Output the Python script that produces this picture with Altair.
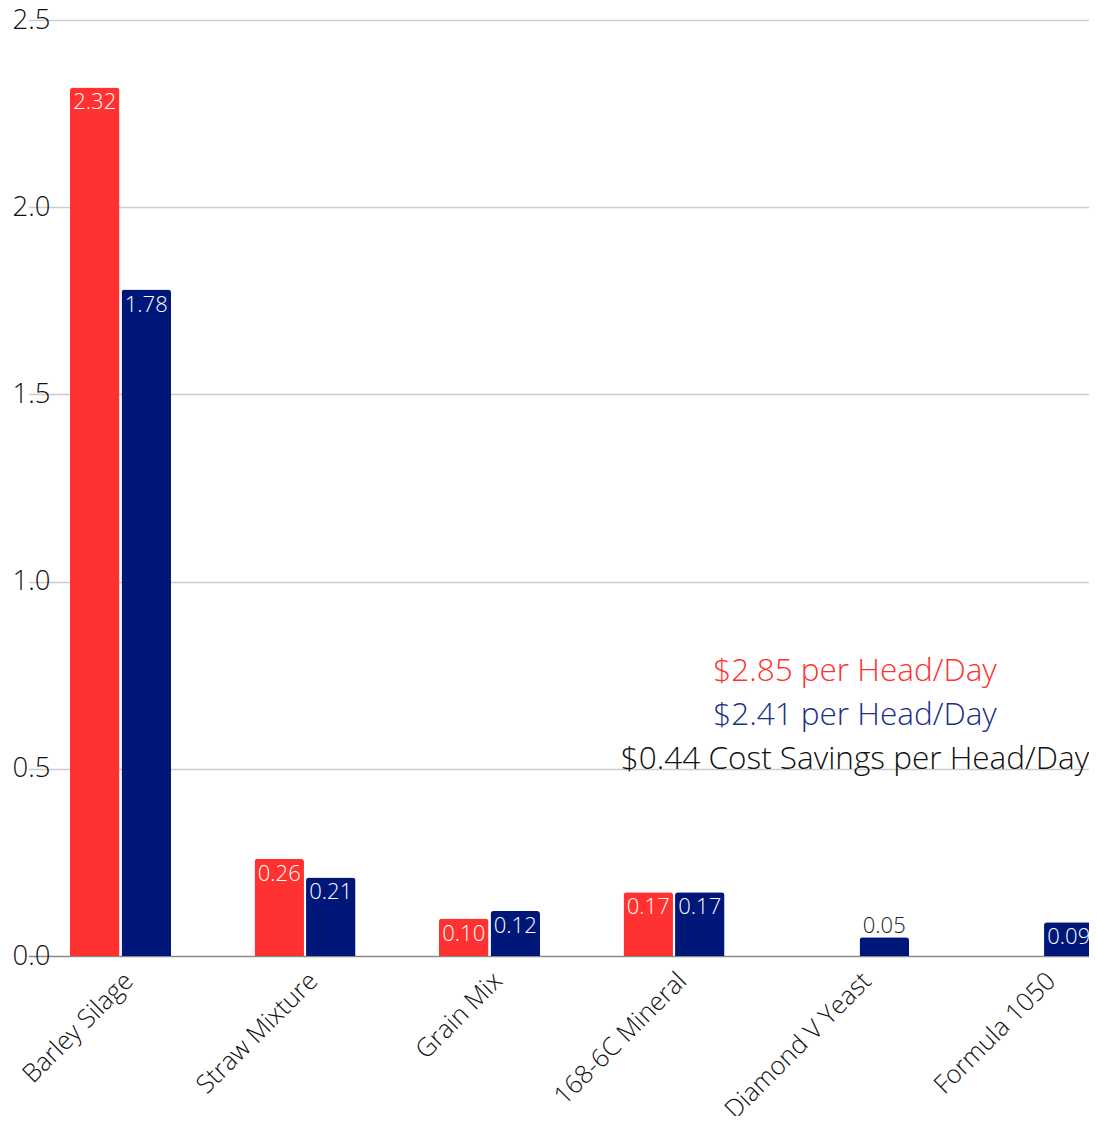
import altair as alt
import pandas as pd

categories = ["Barley Silage", "Straw Mixture", "Grain Mix", "168-6C Mineral", "Diamond V Yeast", "Formula 1050"]
series_names = ["Conventional", "Program"]
red_values = [2.32, 0.26, 0.10, 0.17, None, None]
blue_values = [1.78, 0.21, 0.12, 0.17, 0.05, 0.09]
colors = ["#ff3131", "#00177a"]
notes = ["$2.85 per Head/Day", "$2.41 per Head/Day", "$0.44 Cost Savings per Head/Day"]
note_colors = ["#ff3131", "#1a2f8c", "#111111"]
y_ticks = [0.0, 0.5, 1.0, 1.5, 2.0, 2.5]

rows = []
for c, r, b in zip(categories, red_values, blue_values):
    if r is not None:
        rows.append({"category": c, "series": series_names[0], "value": r})
    if b is not None:
        rows.append({"category": c, "series": series_names[1], "value": b})
df = pd.DataFrame(rows)

FONT = "Open Sans"
W, H = 1023, 936

x_enc = alt.X("category:N", sort=categories, title=None,
              scale=alt.Scale(range=[-41.75, 1065.25], paddingInner=0, paddingOuter=0),
              axis=alt.Axis(labelAngle=-45, labelFontSize=25.5, labelFont=FONT, labelFontWeight=300,
                            labelColor="#111111", labelPadding=12, ticks=False, domain=False,
                            labelAlign="right", labelBaseline="top", labelLimit=0, labelOverlap=False))
xo_enc = alt.XOffset("series:N", sort=series_names,
                     scale=alt.Scale(domain=series_names, range=[41.75, 142.75], paddingInner=0.04, paddingOuter=0))
y_enc = alt.Y("value:Q", title=None,
              scale=alt.Scale(domain=[0, 2.5], nice=False),
              axis=alt.Axis(values=y_ticks, format=".1f", labelFontSize=27.5, labelFont=FONT,
                            labelFontWeight=300, labelColor="#111111", labelPadding=20,
                            ticks=False, domain=False, gridWidth=1.5,
                            gridColor={"condition": {"test": "datum.value === 0", "value": "#8a8a8a"},
                                       "value": "#cccccc"}))

base = alt.Chart(df).encode(x=x_enc, xOffset=xo_enc, y=y_enc)

bars = base.mark_bar(cornerRadiusTopLeft=3, cornerRadiusTopRight=3).encode(
    color=alt.Color("series:N", scale=alt.Scale(domain=series_names, range=colors), legend=None)
)

labels_in = base.transform_filter("datum.value >= 0.07").mark_text(
    baseline="top", dy=5, fontSize=22, font=FONT, fontWeight=300, color="white"
).encode(text=alt.Text("value:Q", format=".2f"))

labels_out = base.transform_filter("datum.value < 0.07").mark_text(
    baseline="bottom", dy=1, fontSize=22, font=FONT, fontWeight=300, color="#222222"
).encode(text=alt.Text("value:Q", format=".2f"))

note_layers = []
for i, (t, col) in enumerate(zip(notes, note_colors)):
    note_layers.append(
        alt.Chart(pd.DataFrame({"note": [t]})).mark_text(
            align="center", baseline="middle", fontSize=31.5, font=FONT, fontWeight=300, color=col
        ).encode(x=alt.value(785), y=alt.value(652 + 44 * i), text="note:N")
    )

chart = alt.layer(bars, labels_in, labels_out, *note_layers).properties(
    width=W, height=H,
    autosize=alt.AutoSizeParams(type="none"),
    padding={"left": 62, "top": 12, "right": -4, "bottom": 160},
).configure_view(stroke=None)

chart.save("out.html", embed_options={"renderer": "svg", "actions": False})
